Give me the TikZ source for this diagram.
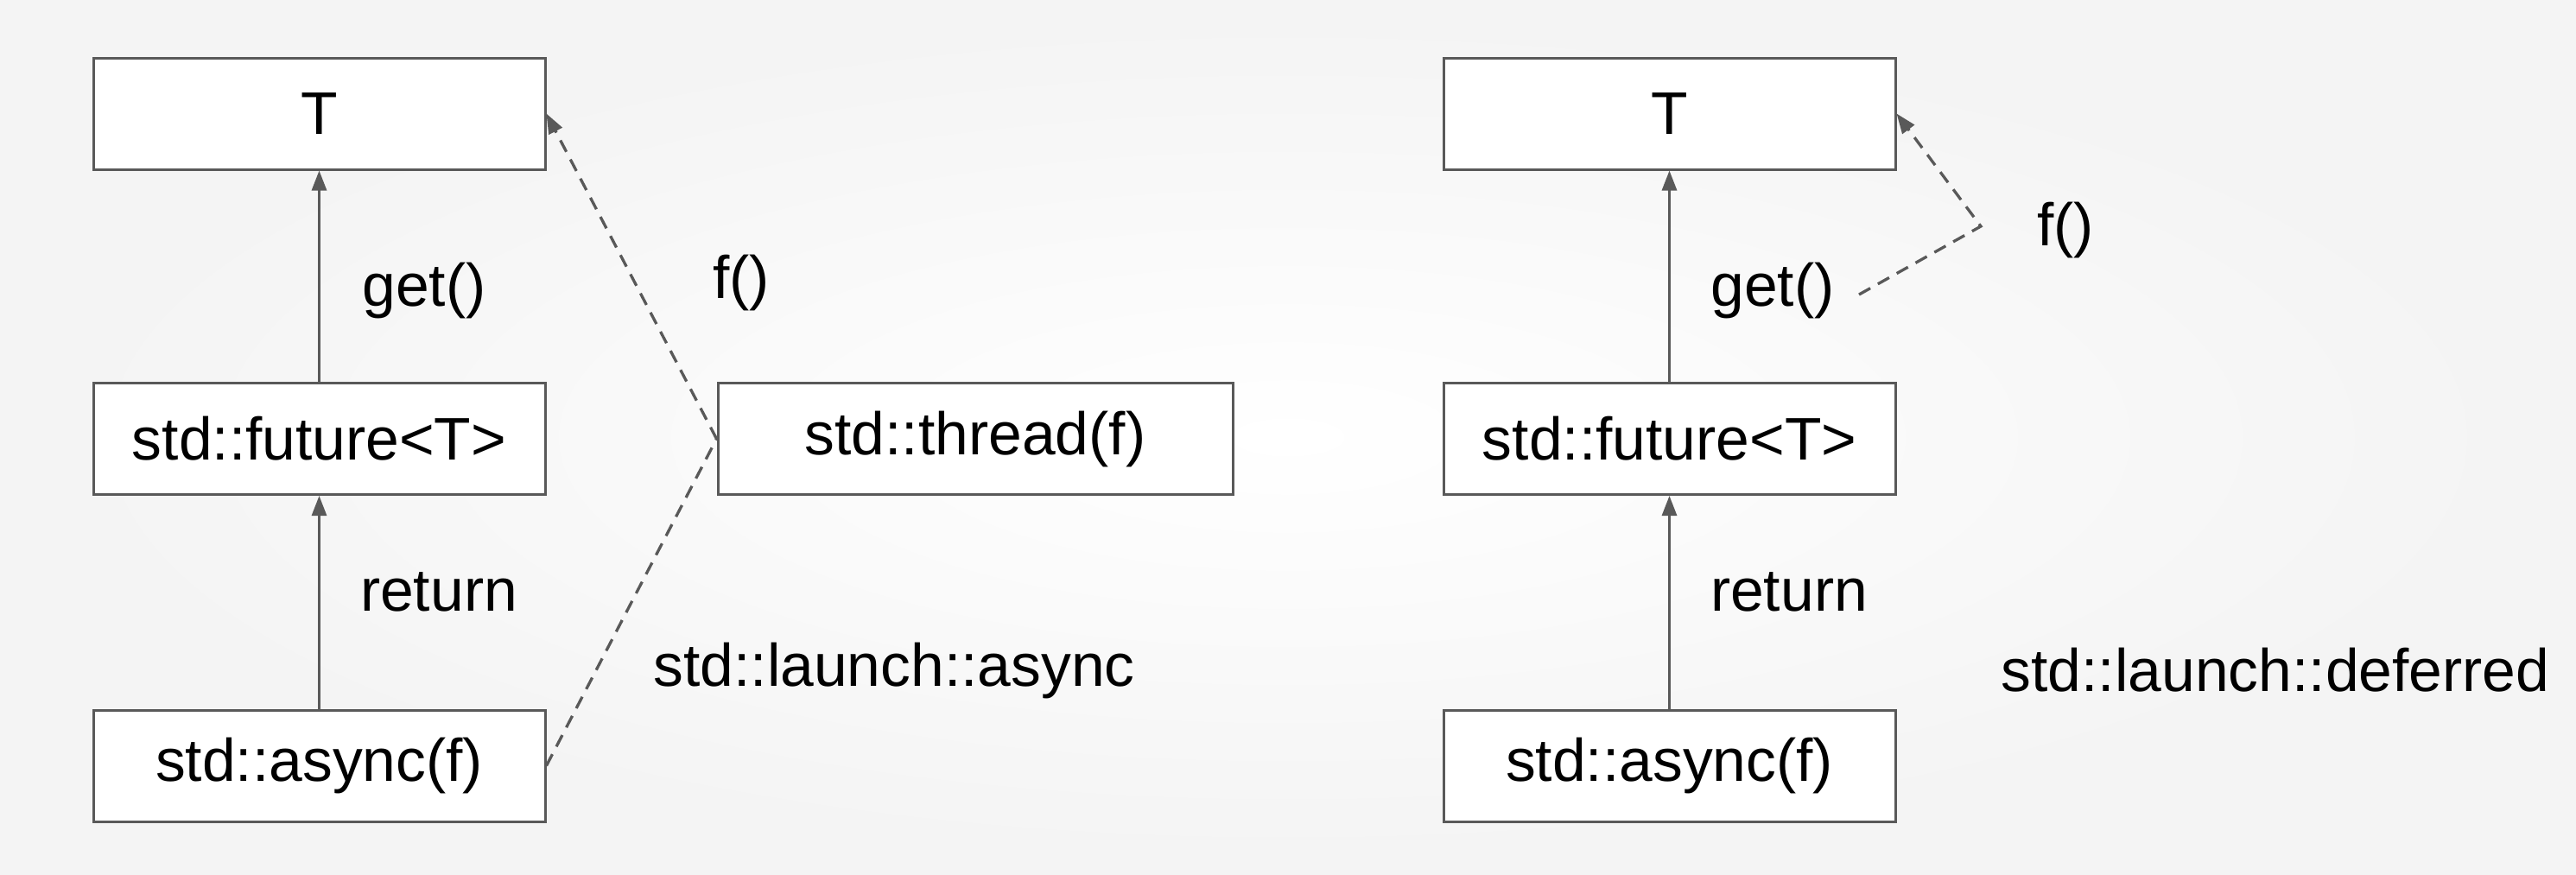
\documentclass[tikz,border=0pt]{standalone}
\usepackage{fontspec}
\setmainfont{Liberation Sans}
\usetikzlibrary{arrows.meta}
\definecolor{edgegray}{HTML}{595959}

\begin{document}
\begin{tikzpicture}[
  box/.style={draw=edgegray, line width=0.03cm, fill=white, minimum width=5.23cm, minimum height=1.29cm, inner sep=0pt},
  txt/.style={font=\fontsize{19.8}{24}\selectfont},
  tip/.style={-{Triangle[length=0.23cm,width=0.17cm]}},
  link/.style={draw=edgegray, line width=0.03cm, tip},
  dlink/.style={draw=edgegray, line width=0.033cm, dash pattern=on 0.15cm off 0.1cm}
]
% Background
\shade[inner color=white, outer color=gray!9] (0,0) rectangle (29.82,10.12);
\useasboundingbox (0,0) rectangle (29.82,10.12);

% Left: std::launch::async
\node[box,txt] (tL) at (3.695,8.805) {T};
\node[box,txt] (fL) at (3.695,5.04) {std::future<T>};
\node[box,txt] (aL) at (3.695,1.255) {std::async(f)};
\node[box,txt,minimum width=5.96cm] (th) at (11.29,5.04) {std::thread(f)};
\draw[link] (fL) -- (tL);
\draw[link] (aL) -- (fL);
\draw[dlink] (aL.east) -- (th.west);
\draw[dlink,tip] (th.west) -- (tL.east);
\node[txt] (gL) at (4.91,6.75) {get()};
\node[txt] (rL) at (5.08,3.27) {return};
\node[txt] (fnL) at (8.58,6.85) {f()};
\node[txt] (pL) at (10.35,2.36) {std::launch::async};

% Right: std::launch::deferred
\node[box,txt] (tR) at (19.325,8.805) {T};
\node[box,txt] (fR) at (19.325,5.04) {std::future<T>};
\node[box,txt] (aR) at (19.325,1.255) {std::async(f)};
\draw[link] (fR) -- (tR);
\draw[link] (aR) -- (fR);
\coordinate (cs) at (21.52,6.71);
\coordinate (cc) at (22.93,7.50);
\draw[dlink,tip] (cs) -- (cc) -- (tR.east);
\node[txt] (gR) at (20.52,6.75) {get()};
\node[txt] (rR) at (20.71,3.27) {return};
\node[txt] (fnR) at (23.91,7.46) {f()};
\node[txt] (pR) at (26.34,2.36) {std::launch::deferred};
\end{tikzpicture}
\end{document}
